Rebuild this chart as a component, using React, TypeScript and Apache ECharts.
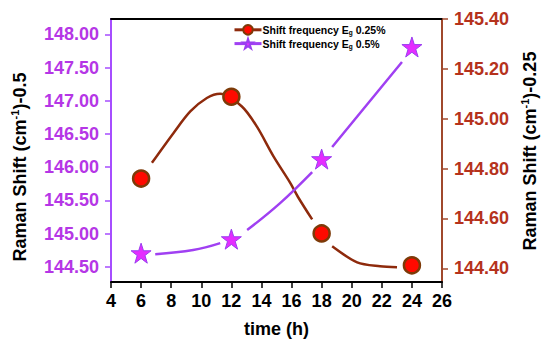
import React, { useEffect, useRef } from "react";
import * as echarts from "echarts";

// measured points
const times = [6, 12, 18, 24];
const shift025 = [144.76, 145.088, 144.54, 144.412]; // right axis
const shift05 = [144.706, 144.917, 146.122, 147.809]; // left axis

// fitted curves (null = gap near a marker)
const fit025: (number[] | null)[] = [
  [6.72, 144.823], [8.16, 144.943], [9.27, 145.029], [10.37, 145.083], [11.26, 145.1],
  [12.7, 145.049], [13.69, 144.969], [14.8, 144.849], [15.91, 144.743], [16.46, 144.683], [17.37, 144.596],
  null,
  [18.7, 144.488], [20.36, 144.424], [21.88, 144.408], [23.01, 144.404],
];
const fit05: (number[] | null)[] = [
  [6.94, 144.691], [9.46, 144.752], [11.26, 144.857],
  null,
  [13.05, 145.053], [15.24, 145.459], [17.37, 145.926],
  null,
  [18.7, 146.303], [23.34, 147.583],
];

const xTicks = [4, 6, 8, 10, 12, 14, 16, 18, 20, 22, 24, 26];
const leftTicks = [144.5, 145.0, 145.5, 146.0, 146.5, 147.0, 147.5, 148.0];
const rightTicks = [144.4, 144.6, 144.8, 145.0, 145.2, 145.4];

const NAME_A = "Shift frequency Eg 0.25%";
const NAME_B = "Shift frequency Eg 0.5%";

const RED_LINE = "#8e2a0c";
const PURPLE_LINE = "#a040f2";
const LEFT_LABEL = "#b536e6";
const RIGHT_LABEL = "#b5321c";
const FONT = "'Liberation Sans', Arial, sans-serif";

export default function App() {
  const ref = useRef<HTMLDivElement>(null);
  useEffect(() => {
    if (!ref.current) return;
    const chart = echarts.init(ref.current, null, { renderer: "svg" });
    const titleRich = {
      a: { fontSize: 18, fontWeight: "bold", fontFamily: FONT, color: "#000", lineHeight: 22 },
      b: { fontSize: 11, fontWeight: "bold", fontFamily: FONT, color: "#000", lineHeight: 22, verticalAlign: "top", padding: [0, 0, 8, 0] },
    };
    chart.setOption({
      animation: false,
      backgroundColor: "#fff",
      textStyle: { fontFamily: FONT },
      grid: { left: 111, right: 108, top: 19, bottom: 65 },
      legend: {
        orient: "vertical",
        left: 228,
        top: 19,
        itemWidth: 27,
        itemHeight: 12,
        itemGap: 1.5,
        data: [
          { name: NAME_A, lineStyle: { color: RED_LINE, width: 3, opacity: 1 } },
          { name: NAME_B, lineStyle: { color: PURPLE_LINE, width: 3, opacity: 1 } },
        ],
        formatter: (n: string) =>
          n === NAME_A ? "{a|Shift frequency E}{s|g}{a| 0.25%}" : "{a|Shift frequency E}{s|g}{a| 0.5%}",
        textStyle: {
          fontSize: 10.5,
          fontWeight: 700,
          color: "#000",
          padding: [0, 0, 0, -4],
          rich: {
            a: { fontSize: 10.5, fontWeight: 700, color: "#000", fontFamily: FONT },
            s: { fontSize: 6.5, fontWeight: 700, color: "#000", fontFamily: FONT, padding: [6, 0, 0, 0] },
          },
        },
      },
      xAxis: [
        {
          type: "value",
          min: 4,
          max: 26,
          interval: 2,
          position: "bottom",
          name: "time (h)",
          nameLocation: "middle",
          nameGap: 38,
          nameTextStyle: { fontSize: 18, fontWeight: "bold", color: "#000", fontFamily: FONT },
          axisLine: { show: true, lineStyle: { color: "#000", width: 2 } },
          axisTick: { show: true, inside: false, length: 6, lineStyle: { color: "#000", width: 1.5 } },
          axisLabel: {
            margin: 10,
            fontSize: 18,
            fontWeight: "bold",
            color: "#000",
            fontFamily: FONT,
            customValues: xTicks,
          },
          splitLine: { show: false },
        },
        {
          type: "value",
          min: 4,
          max: 26,
          position: "top",
          axisLine: { show: true, lineStyle: { color: "#000", width: 2 } },
          axisTick: { show: false },
          axisLabel: { show: false },
          splitLine: { show: false },
        },
      ],
      yAxis: [
        {
          type: "value",
          position: "left",
          min: 144.272,
          max: 148.23,
          axisLine: { show: true, lineStyle: { color: "#a64dff", width: 2 } },
          axisTick: { show: true, length: 6, lineStyle: { color: "#a64dff", width: 1.5 }, customValues: leftTicks },
          axisLabel: {
            margin: 12,
            fontSize: 18,
            fontWeight: "bold",
            color: LEFT_LABEL,
            fontFamily: FONT,
            customValues: leftTicks,
            formatter: (v: number) => v.toFixed(2),
          },
          splitLine: { show: false },
        },
        {
          type: "value",
          position: "right",
          min: 144.345,
          max: 145.4,
          axisLine: { show: true, lineStyle: { color: "#a0482c", width: 2 } },
          axisTick: { show: true, length: 6, lineStyle: { color: "#a0482c", width: 1.5 }, customValues: rightTicks },
          axisLabel: {
            margin: 12,
            fontSize: 18,
            fontWeight: "bold",
            color: RIGHT_LABEL,
            fontFamily: FONT,
            customValues: rightTicks,
            formatter: (v: number) => v.toFixed(2),
          },
          splitLine: { show: false },
        },
      ],
      graphic: [
        {
          type: "text",
          x: 20,
          y: 167,
          rotation: Math.PI / 2,
          style: {
            text: "{a|Raman Shift (cm}{b|-1}{a|)-0.5}",
            rich: titleRich,
            align: "center",
            verticalAlign: "middle",
          },
        },
        {
          type: "text",
          x: 530,
          y: 151,
          rotation: Math.PI / 2,
          style: {
            text: "{a|Raman Shift (cm}{b|-1}{a|)-0.25}",
            rich: titleRich,
            align: "center",
            verticalAlign: "middle",
          },
        },
      ],
      series: [
        {
          type: "line",
          name: "fit025",
          yAxisIndex: 1,
          data: fit025.map((p) => (p ? p : [null, null])),
          smooth: 0.3,
          showSymbol: false,
          symbol: "none",
          connectNulls: false,
          lineStyle: { color: RED_LINE, width: 2.5 },
          z: 2,
        },
        {
          type: "line",
          name: "fit05",
          yAxisIndex: 0,
          data: fit05.map((p) => (p ? p : [null, null])),
          smooth: 0.4,
          showSymbol: false,
          symbol: "none",
          connectNulls: false,
          lineStyle: { color: PURPLE_LINE, width: 2.5 },
          z: 2,
        },
        {
          type: "line",
          name: NAME_A,
          yAxisIndex: 1,
          data: times.map((t, i) => [t, shift025[i]]),
          symbol: "circle",
          symbolSize: 16,
          lineStyle: { width: 0, opacity: 0 },
          itemStyle: { color: "#ff0a00", borderColor: "#7d3a08", borderWidth: 2.5 },
          z: 5,
        },
        {
          type: "line",
          name: NAME_B,
          yAxisIndex: 0,
          data: times.map((t, i) => [t, shift05[i]]),
          symbol: "path://M50,0 L61.8,35.3 L99,35.3 L69,57.3 L80.4,92.7 L50,70.8 L19.6,92.7 L31,57.3 L1,35.3 L38.2,35.3 Z",
          symbolSize: 20,
          lineStyle: { width: 0, opacity: 0 },
          itemStyle: { color: "#e52cff", borderColor: "#9a3ef0", borderWidth: 1 },
          z: 5,
        },
      ],
    });
    return () => chart.dispose();
  }, []);
  return (
    <div
      ref={ref}
      style={{ position: "fixed", left: 0, top: 0, width: 550, height: 347 }}
    />
  );
}
